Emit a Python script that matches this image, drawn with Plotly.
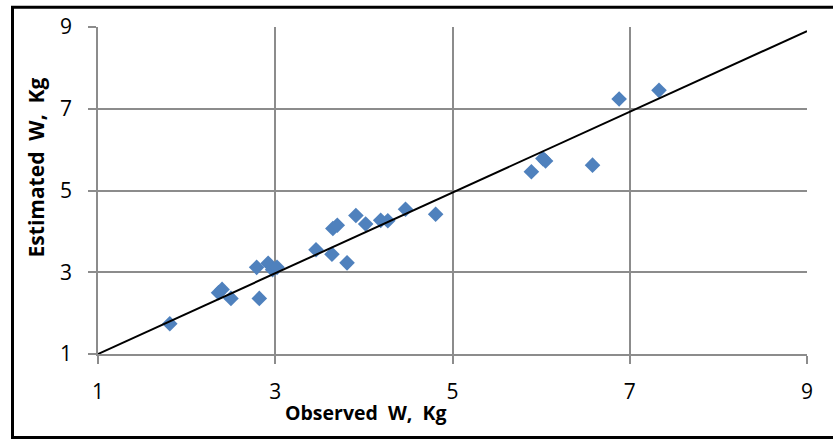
import plotly.graph_objects as go

observed = [1.81, 2.36, 2.40, 2.50, 2.82, 2.79, 2.92, 2.97, 3.02, 3.46, 3.64, 3.81,
            3.65, 3.70, 3.91, 4.02, 4.19, 4.27, 4.47, 4.81, 5.89, 6.02, 6.05, 6.58,
            6.88, 7.33]
estimated = [1.74, 2.50, 2.58, 2.36, 2.36, 3.12, 3.22, 3.06, 3.12, 3.55, 3.44, 3.23,
             4.07, 4.15, 4.39, 4.18, 4.27, 4.26, 4.54, 4.42, 5.46, 5.78, 5.72, 5.62,
             7.24, 7.45]
line_x = [1, 9]
line_y = [1, 8.9]
ticks = [1, 3, 5, 7, 9]

grid = "#8c8c8c"
font = "Open Sans"

fig = go.Figure()
fig.add_trace(go.Scatter(x=observed, y=estimated, mode="markers",
                         marker=dict(symbol="diamond", size=12, color="#4f81bd"),
                         showlegend=False))
fig.add_trace(go.Scatter(x=line_x, y=line_y, mode="lines",
                         line=dict(color="black", width=2), showlegend=False))

L, R, T, B = 98, 26, 21, 87
W, H = 833, 441
pw, ph = W - L - R, H - T - B

fig.update_layout(
    width=W, height=H, margin=dict(l=L, r=R, t=T, b=B),
    paper_bgcolor="white", plot_bgcolor="white",
    font=dict(family=font, size=21, color="black"),
)
tickfont = dict(family=font, size=21, color="black")
fig.update_xaxes(range=[1, 9], tickvals=ticks, showgrid=True, gridcolor=grid, gridwidth=1.5,
                 showline=True, linecolor=grid, linewidth=1.5, mirror=False,
                 ticks="outside", ticklen=8, tickcolor=grid, tickwidth=1.5,
                 ticklabelstandoff=10, zeroline=False, tickfont=tickfont)
fig.update_yaxes(range=[1, 9], tickvals=ticks, showgrid=True, gridcolor=grid, gridwidth=1.5,
                 showline=True, linecolor=grid, linewidth=1.5,
                 ticks="outside", ticklen=8, tickcolor=grid, tickwidth=1.5,
                 ticklabelstandoff=12, zeroline=False, tickfont=tickfont)

# outer frame
fig.add_shape(type="rect", xref="paper", yref="paper",
              x0=(12.5 - L) / pw, x1=(840 - L) / pw,
              y0=(H - B - 439) / ph, y1=(H - B - 1) / ph,
              line=dict(color="black", width=3), fillcolor="rgba(0,0,0,0)")

fig.add_annotation(text="<b>Observed\u00a0 W,\u00a0 Kg</b>", xref="paper", yref="paper",
                   x=(366 - L) / pw, y=(H - B - 414) / ph, showarrow=False,
                   font=dict(size=19.5, family=font), xanchor="center", yanchor="middle")
fig.add_annotation(text="<b>Estimated\u00a0 W,\u00a0 Kg</b>", xref="paper", yref="paper",
                   x=(36 - L) / pw, y=(H - B - 164) / ph, showarrow=False, textangle=-90,
                   font=dict(size=21, family=font), xanchor="center", yanchor="middle")

fig.write_html("out.html", config={"displayModeBar": False},
               post_script="document.body.style.margin='0';document.body.style.padding='0';document.body.style.overflow='hidden';")
